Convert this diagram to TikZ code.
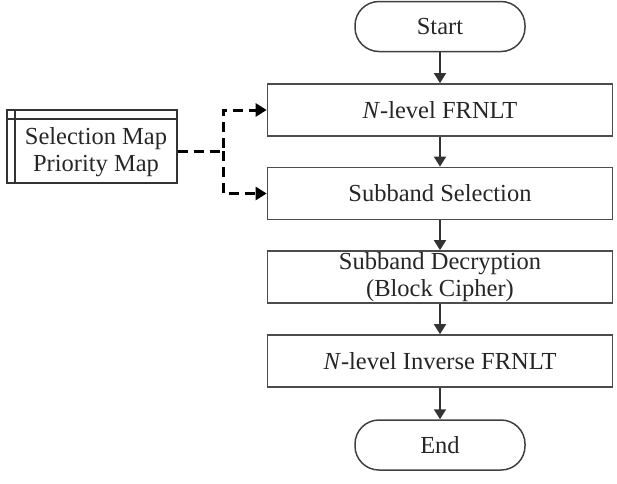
\documentclass[tikz,border=0pt]{standalone}
\usepackage{fontspec}
\setmainfont{Liberation Serif}
\usetikzlibrary{arrows.meta,calc}
\begin{document}
\begin{tikzpicture}[x=1pt,y=-1pt,
  every node/.style={font=\fontsize{24.5}{27}\selectfont, text=black!85},
  procbox/.style={draw=black!70, line width=1.7pt, minimum width=345pt, minimum height=52pt, inner sep=0pt, align=center},
  term/.style={draw=black!75, line width=1.5pt, minimum width=170pt, minimum height=50pt, rounded corners=24pt, inner sep=0pt},
  flow/.style={draw=black!80, line width=1.7pt, -{Triangle[length=10pt,width=12pt]}},
  dflow/.style={draw=black, line width=3pt, dash pattern=on 10pt off 6pt, -{Triangle[length=11pt,width=13pt]}}]
\useasboundingbox (0,0) rectangle (617,483);
\node[term] (start) at (440,26.5) {Start};
\node[procbox] (b1) at (440,110) {\textit{N}-level FRNLT};
\node[procbox] (b2) at (440,193.5) {Subband Selection};
\node[procbox] (b3) at (440,277) {Subband Decryption\\(Block Cipher)};
\node[procbox] (b4) at (440,361) {\textit{N}-level Inverse FRNLT};
\node[term] (end) at (440,445) {End};
% data store
\node[draw=black!80, line width=1.7pt, minimum width=170pt, minimum height=73pt, inner sep=0pt] (ds) at (92,146.5) {};
\draw[draw=black!80, line width=1.7pt] ($(ds.north west)+(9,0)$) -- ($(ds.south west)+(9,0)$);
\draw[draw=black!80, line width=1.7pt] ($(ds.north west)+(0,10)$) -- ($(ds.north east)+(0,10)$);
\node[align=center] (dstext) at (96,152) {Selection Map\\Priority Map};
\coordinate (jn) at (223,151);
\draw[flow] (start) -- (b1);
\draw[flow] (b1) -- (b2);
\draw[flow] (b2) -- (b3);
\draw[flow] (b3) -- (b4);
\draw[flow] (b4) -- (end);
\draw[dflow] (ds.east |- jn) -- (jn) |- (b1.west);
\draw[dflow] (jn) |- (b2.west);
\end{tikzpicture}
\end{document}
